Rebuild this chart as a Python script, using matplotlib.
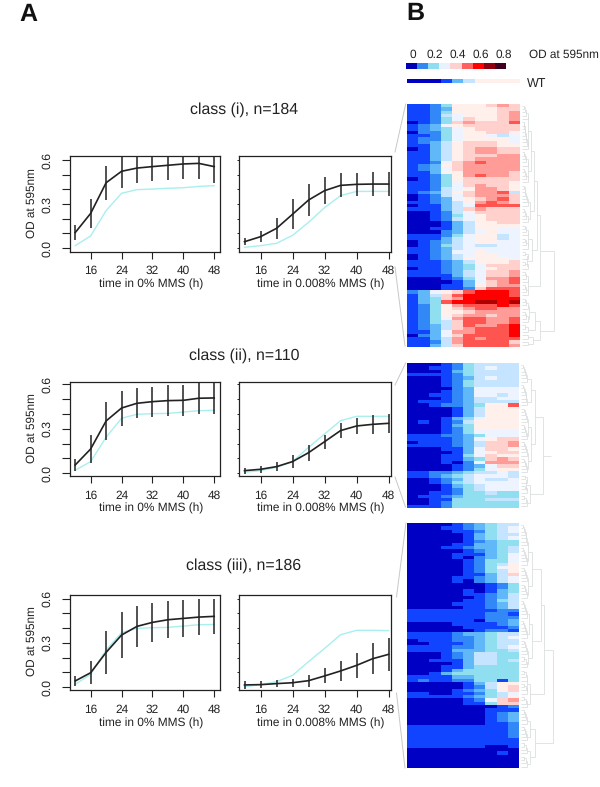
import matplotlib
matplotlib.use("Agg")
import matplotlib.pyplot as plt
import numpy as np
from matplotlib.colors import ListedColormap, BoundaryNorm

plt.rcParams['font.family'] = ['Liberation Sans', 'DejaVu Sans']
plt.rcParams['text.hinting'] = 'no_hinting'
plt.rcParams['text.hinting_factor'] = 8

W, H = 600, 787
HOURS = [12, 16, 20, 24, 28, 32, 36, 40, 44, 48]

# class (i)
I_0_MEAN = [.105, .236, .445, .523, .545, .555, .564, .573, .577, .555]
I_0_SD = [.053, .098, .116, .112, .100, .100, .100, .105, .104, .110]
I_0_WT = [.016, .082, .255, .373, .398, .402, .407, .411, .420, .425]
I_8_MEAN = [.043, .077, .134, .230, .327, .391, .427, .434, .436, .436]
I_8_SD = [.025, .038, .070, .102, .111, .094, .082, .078, .080, .082]
I_8_WT = [.005, .016, .032, .086, .175, .275, .357, .386, .386, .386]
# class (ii)
II_0_MEAN = [.056, .164, .353, .440, .472, .483, .490, .492, .506, .508]
II_0_SD = [.040, .093, .127, .118, .102, .101, .106, .104, .105, .106]
II_0_WT = [.020, .079, .243, .371, .398, .402, .404, .413, .422, .425]
II_8_MEAN = [.018, .027, .045, .079, .139, .213, .288, .319, .330, .337]
II_8_SD = [.020, .022, .030, .046, .053, .047, .052, .052, .062, .065]
II_8_WT = [.007, .018, .040, .079, .175, .265, .355, .384, .384, .384]
# class (iii)
III_0_MEAN = [.041, .097, .235, .353, .412, .439, .457, .466, .475, .480]
III_0_SD = [.035, .077, .146, .157, .141, .132, .126, .125, .124, .120]
III_0_WT = [.018, .086, .251, .369, .398, .403, .405, .414, .423, .425]
III_8_MEAN = [.014, .016, .023, .029, .043, .075, .109, .147, .192, .222]
III_8_SD = [.027, .026, .024, .028, .041, .051, .069, .084, .104, .112]
III_8_WT = [.002, .016, .036, .079, .172, .262, .355, .385, .385, .383]

TITLES = ['class (i), n=184', 'class (ii), n=110', 'class (iii), n=186']
XTICKS = [16, 24, 32, 40, 48]
XTICK_LABELS = ['16', '24', '32', '40', '48']
YTICKS = [0, .1, .2, .3, .4, .5, .6]
YLABELS = ['0.0', '', '', '0.3', '', '', '0.6']

CBAR_LABELS = ['0', '0.2', '0.4', '0.6', '0.8']
CBAR_COLORS = ['#0000b4', '#3388f0', '#8fddf0', '#e8f2ff', '#ffd0d0',
               '#ff6060', '#ff0000', '#900010', '#400020']
HEAT_COLORS = ['#0000c4', '#1044ff', '#3388f8', '#60b8f8', '#90dff0', '#c4e4ff',
               '#eef4ff', '#fff0ec', '#ffd0cc', '#ff9c98', '#ff5550', '#ff0000', '#b00000']
# levels are hex indices into HEAT_COLORS
WT_ROW = '0001357777'
HEAT_I = """1124777898 1123777788 1124777789 1125677789 1124687789 012489888a 1236788888 1234678888
0224677887 1124677656 1224677776 1235788876 1135788877 0135789988 1135789988 1135788899 1135789999
112689a999 1237899999 1236899999 1137799998 112479a998 0124788888 1124688887 1124689887 1125679987
12357899a5 0125689998 01236789a8 1123579a98 011356aaaa 1113589888 0012568888 0012467888 0012567888
0001357788 0001357777 0011357766 0002356766 1112467756 1113567756 0123567766 0124565566 1123566666
1123667666 0123567766 0123577776 1112357778 1112346888 0112346788 1112356889 1111356889 000124699a
000013689a 0001137899 0001128aaa 23678abbba 1358abbbba 13489bbbbb 134abbccbc 12479aaaba 124789aa99
1247789999 1247899899 12469aa99a 12458aa99a 12358a99ab 123589aaab 113699aaab 02368aaaab 11359a9aaa
11259aaaa8 11358aaaa9""".split()
HEAT_II = """0001245555 0011245655 0001345555 1111245555 0001235655 0001245555 0001245555 0000236666
0001236666 0011236656 0001235566 0111235555 001223477a 0000135777 0000135777 0000135777 0001346777
0101257777 0001347777 0001247777 0001246666 1112234666 1111236788 0111235889 1111235889 0001136887
0000136788 0001146877 0001134898 0001026999 0000123688 0000124677 1122345565 1123456665 0012356556
0012456666 0001345666 0001245666 0011244544 0112344444 0011444555 0012444444 1112444444""".split()
HEAT_III = """0000123455 0001123456 0000112456 0000013455 0000013456 0000012344 0000113344 0001123345
0000012345 0000111346 0000102346 0000012446 0000012457 0000012467 0000012457 0000011358 0000112356
0000102356 0000000124 0000000124 0000010134 0000011235 0000001235 0000011245 0000111235 0000011235
1111111122 1111111221 1111111222 1111110223 0000111123 0000011112 0000001221 1111233455 1111223456
0111223455 0011123455 1111223456 1111333445 0001235544 0001235544 0011135545 0000135544 0001134444
0001344444 0013444444 1111334444 1211224414 0000013577 0000012578 0000123478 1100112456 1111123457
0000012689 0000011488 0000000012 0000000111 0000000123 0000000123 0000000123 0000000112 1111111112
1111111112 1111111112 1111111112 1111111111 1111111111 1111111001 0000000000 0000000010 0000000000
0000000000 0000000000 0000000000""".split()

TREE_I = [32,
          [18.5,
           [15, [12, [9, [6, 5, 9], [6, 5, 5]], [8, 7, 5]], [10, [6, 4, 4], [5, 3, 3]]],
           [9, [6, 4, 4], 0]],
          [18, [13, [7, 4, 4], 3], [11, 2, 2]]]
TREE_II = [22,
           [14, [10, 6, 7], [10, [7, 5, 5], [7, 5, 5]]],
           [9, [5, 3, 3], 4]]
TREE_III = [32,
            [23,
             [20, [11, [7, 7, 6], [7, 5, 5]], [11, [8, 6, 6], [7, 5, 4]]],
             [9, [6, 4, 4], 4]],
            [14, [9, 5, 5], [9, 4, 4]]]


def axes_px(fig, x0, y0, x1, y1, **kw):
    return fig.add_axes([x0 / W, 1 - y1 / H, (x1 - x0) / W, (y1 - y0) / H], **kw)


def growth(ax, mean, sd, wt, ylabel, xlabel, xlim, ylim):
    ax.plot(HOURS, wt, color='#a8efee', lw=1.0, zorder=2)
    ax.errorbar(HOURS, mean, yerr=sd, color='#222222', lw=1.2, elinewidth=1.1, capsize=0, zorder=3)
    ax.set_xlim(*xlim)
    ax.set_ylim(*ylim)
    ax.set_xticks(XTICKS)
    ax.set_xticklabels(XTICK_LABELS, va='baseline')
    ax.set_yticks(YTICKS)
    ax.tick_params(axis='x', length=5.2, width=0.8, labelsize=8.6, pad=11, colors='#222222')
    if ylabel:
        ax.set_yticklabels(YLABELS, rotation=90, va='center', fontsize=8.8)
        ax.tick_params(axis='y', length=5.6, width=0.8, pad=6.5, colors='#222222')
        ax.set_ylabel('OD at 595nm', fontsize=8.5, color='#222222')
        ax.yaxis.set_label_coords(-0.22, 0.51)
    else:
        ax.set_yticklabels([])
        ax.tick_params(axis='y', length=1.2, width=0.6)
    ax.set_xlabel(xlabel, fontsize=8.6, color='#222222')
    ax.xaxis.set_label_coords(0.54, -0.285)
    for s in ax.spines.values():
        s.set_linewidth(0.9)
        s.set_color('#222222')


fig = plt.figure(figsize=(W / 100, H / 100), dpi=100)

# overlay in pixel coordinates for dendrograms, connectors and free text
ov = fig.add_axes([0, 0, 1, 1], zorder=0)
ov.set_xlim(0, W)
ov.set_ylim(H, 0)
ov.axis('off')

PANELS = [
    (TITLES[0], 110, (156.3, 251.7), (248, 160), (I_0_MEAN, I_0_SD, I_0_WT), (I_8_MEAN, I_8_SD, I_8_WT)),
    (TITLES[1], 356, (381.7, 476.3), (473.3, 384.3), (II_0_MEAN, II_0_SD, II_0_WT), (II_8_MEAN, II_8_SD, II_8_WT)),
    (TITLES[2], 566, (594.7, 690.3), (687, 598.7), (III_0_MEAN, III_0_SD, III_0_WT), (III_8_MEAN, III_8_SD, III_8_WT)),
]
for title, ty, (top, bot), (y0, y6), left, right in PANELS:
    per = (y0 - y6) / 0.6
    ylim = (-(bot - y0) / per, (y0 - top) / per)
    a = axes_px(fig, 70, top, 220, bot)
    growth(a, *left, True, 'time in 0% MMS (h)', (10.65, 49.5), ylim)
    b = axes_px(fig, 238.5, top, 391, bot)
    growth(b, *right, False, 'time in 0.008% MMS (h)', (10.5, 48.6), ylim)
    ov.text(244, ty, title, ha='center', va='center', fontsize=11.4, color='#222222')

ov.text(28, 15, 'A', fontsize=18, fontweight='bold', ha='center', va='center', color='#111111')
ov.text(415.5, 14, 'B', fontsize=18, fontweight='bold', ha='center', va='center', color='#111111')

# colour key
k = axes_px(fig, 406.3, 63.3, 506.3, 68.7)
k.imshow([list(range(len(CBAR_COLORS)))], aspect='auto', cmap=ListedColormap(CBAR_COLORS),
         interpolation='nearest')
k.axis('off')
for lab, x in zip(CBAR_LABELS, [412.7, 434.3, 457.7, 481, 504]):
    ov.text(x, 55, lab, ha='center', va='center', fontsize=8.6, color='#222222')
ov.text(529, 55, 'OD at 595nm', ha='left', va='center', fontsize=8.5, color='#222222')
ov.text(527, 83.5, 'WT', ha='left', va='center', fontsize=9, color='#222222')

cmap = ListedColormap(HEAT_COLORS)
norm = BoundaryNorm(np.arange(len(HEAT_COLORS) + 1) - .5, len(HEAT_COLORS))


def heat(rows, x0, y0, x1, y1):
    m = [[int(c, 16) for c in r] for r in rows]
    ax = axes_px(fig, x0, y0, x1, y1)
    ax.imshow(m, aspect='auto', cmap=cmap, norm=norm, interpolation='nearest')
    ax.axis('off')


heat([WT_ROW], 406.7, 79.3, 519.3, 83.3)
heat(HEAT_I, 406.7, 104, 519.3, 347)
heat(HEAT_II, 407.3, 363.3, 519, 507.7)
heat(HEAT_III, 406.7, 523.3, 518.3, 768.3)

GRAY = '#d8dcdc'


def dendro(tree, x0, y0, y1, stub=0):
    def count(n):
        return n if isinstance(n, int) else count(n[1]) + count(n[2])
    total = count(tree)
    rh = (y1 - y0) / total
    pos = [0]
    segs = []

    def walk(n):
        if isinstance(n, int):
            if n == 0:
                return None
            y = y0 + (pos[0] + .5) * rh
            h = 0
            pos[0] += 1
            for i in range(1, n):
                yi = y0 + (pos[0] + .5) * rh
                pos[0] += 1
                nh = 1.5 + 4.5 * i / max(n - 1, 1)
                segs.append(((x0 + h, y), (x0 + nh, y)))
                segs.append(((x0, yi), (x0 + nh, yi)))
                segs.append(((x0 + nh, y), (x0 + nh, yi)))
                y, h = (y + yi) / 2, nh
            return y, h
        a = walk(n[1])
        b = walk(n[2])
        if a is None or b is None:
            return a or b
        segs.append(((x0 + a[1], a[0]), (x0 + n[0], a[0])))
        segs.append(((x0 + b[1], b[0]), (x0 + n[0], b[0])))
        segs.append(((x0 + n[0], a[0]), (x0 + n[0], b[0])))
        return (a[0] + b[0]) / 2, n[0]

    r = walk(tree)
    if stub:
        segs.append(((x0 + r[1], r[0]), (x0 + r[1] + stub, r[0])))
    for (xa, ya), (xb, yb) in segs:
        ov.plot([xa, xb], [ya, yb], color=GRAY, lw=0.55, solid_capstyle='butt')


dendro(TREE_I, 521.5, 104, 347)
dendro(TREE_II, 521, 363.3, 507.7, stub=8)
dendro(TREE_III, 521, 523.3, 768.3)

# zoom connectors from the curves to the heat maps
for x0, y0, x1, y1 in [(395, 152, 405.7, 104), (395, 267, 405, 346),
                       (395, 385, 405.7, 363), (395, 477, 405.5, 507),
                       (396.5, 597, 406, 523), (396.5, 693, 405, 768)]:
    ov.plot([x0, x1], [y0, y1], color='#c8c8c8', lw=0.7)

ov.set_xlim(0, W)
ov.set_ylim(H, 0)
fig.savefig('out.png', dpi=100)
